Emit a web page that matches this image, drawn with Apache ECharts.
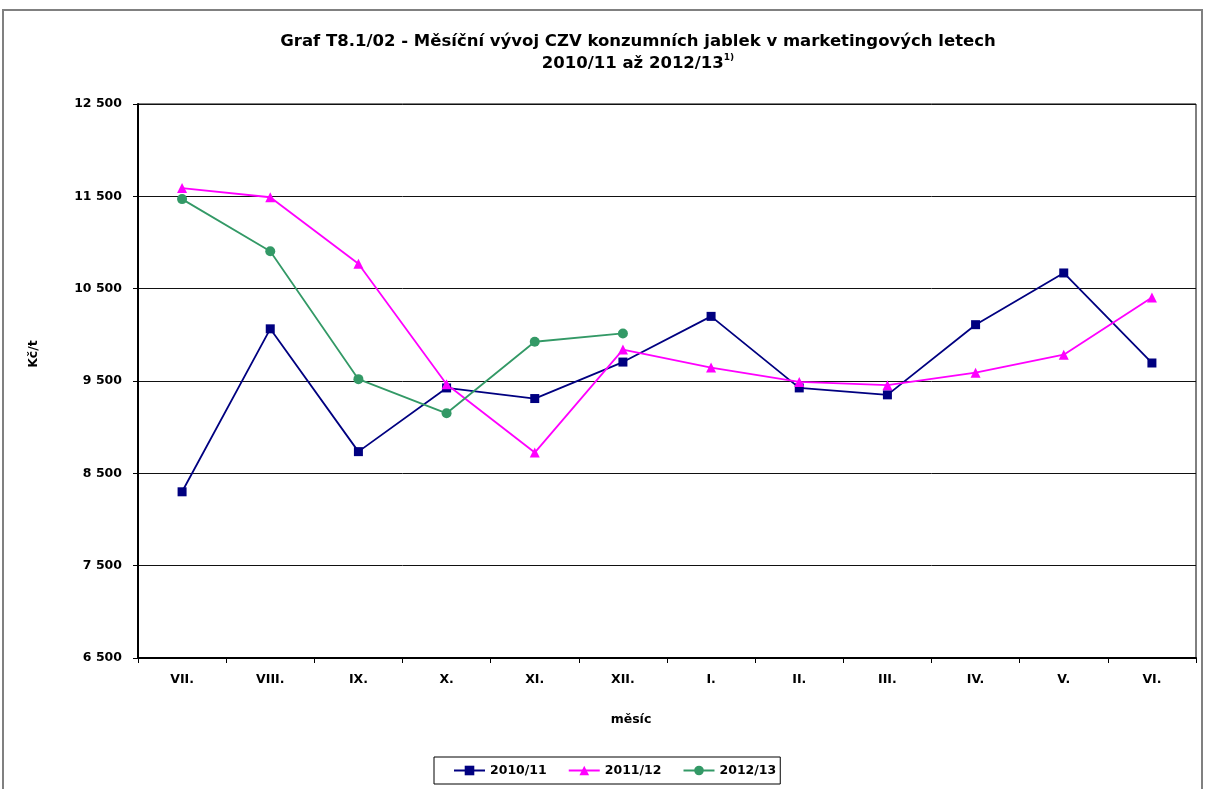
<!DOCTYPE html>
<html><head><meta charset="utf-8">
<script src="https://cdn.jsdelivr.net/npm/echarts@6/dist/echarts.min.js"></script>
<style>html,body{margin:0;padding:0;background:#fff}#c{width:1206px;height:789px}</style>
</head><body><div id="c"></div>
<script>
const months = ['VII.','VIII.','IX.','X.','XI.','XII.','I.','II.','III.','IV.','V.','VI.'];
const s2010 = [8300,10065,8735,9425,9310,9705,10200,9425,9350,10110,10670,9695];
const s2011 = [11590,11490,10770,9465,8725,9840,9645,9490,9455,9590,9785,10405];
const s2012 = [11470,10905,9520,9150,9925,10015];
const seriesNames = ['2010/11','2011/12','2012/13'];

const chart = echarts.init(document.getElementById('c'), null, {renderer:'canvas'});
const font = '"DejaVu Sans", Arial, sans-serif';
const lbl = {fontFamily:font,fontSize:12.5,fontWeight:'bold',color:'#000'};
chart.setOption({
  animation:false,
  backgroundColor:'#fff',
  textStyle:{fontFamily:font},
  graphic:[
    {type:'rect',shape:{x:3,y:10,width:1199,height:800},style:{fill:null,stroke:'#808080',lineWidth:2},silent:true},
    {type:'text',x:34,y:354,rotation:Math.PI/2,silent:true,
      style:{text:'Kč/t',fill:'#000',font:'bold 12.5px "DejaVu Sans", Arial, sans-serif',align:'center',verticalAlign:'middle'}},
    {type:'text',x:631,y:720,silent:true,
      style:{text:'měsíc',fill:'#000',font:'bold 12.5px "DejaVu Sans", Arial, sans-serif',align:'center',verticalAlign:'middle'}}
  ],
  title:{
    text:'Graf T8.1/02 - Měsíční vývoj CZV konzumních jablek v marketingových letech\n2010/11 až 2012/13{s|1)}',
    left:633, top:26, textAlign:'center',
    textStyle:{fontFamily:font,fontSize:16.5,fontWeight:'bold',color:'#000',lineHeight:22,
      rich:{s:{fontFamily:font,fontSize:9,fontWeight:'bold',verticalAlign:'top',lineHeight:22,padding:[0,0,7,0]}}}
  },
  grid:{left:138,right:10,top:104,bottom:131,show:true,borderColor:'#000',borderWidth:1},
  legend:{
    data:seriesNames, left:434, top:757,
    orient:'horizontal', itemWidth:31, itemHeight:12, itemGap:21,
    borderColor:'#000', borderWidth:1, padding:[7,4,7,19],
    textStyle:lbl
  },
  xAxis:{
    type:'category', data:months, boundaryGap:true,
    axisLine:{lineStyle:{color:'#000',width:2}},
    axisTick:{show:true,length:5,inside:false,lineStyle:{color:'#000'}},
    axisLabel:Object.assign({margin:15},lbl)
  },
  yAxis:{
    type:'value', min:6500, max:12500, interval:1000,
    axisLine:{show:true,lineStyle:{color:'#000',width:2}},
    axisTick:{show:true,length:5,lineStyle:{color:'#000'}},
    axisLabel:Object.assign({margin:16,
      formatter:v=>String(v).replace(/\B(?=(\d{3})+(?!\d))/g,' ')},lbl),
    splitLine:{show:true,lineStyle:{color:'#111',width:1}}
  },
  series:[
    {name:seriesNames[0],type:'line',data:s2010,symbol:'rect',symbolSize:9,
      lineStyle:{color:'#000080',width:1.8},itemStyle:{color:'#000080'}},
    {name:seriesNames[1],type:'line',data:s2011,symbol:'triangle',symbolSize:10,
      lineStyle:{color:'#FF00FF',width:1.8},itemStyle:{color:'#FF00FF'}},
    {name:seriesNames[2],type:'line',data:s2012,symbol:'circle',symbolSize:10,
      lineStyle:{color:'#339966',width:1.8},itemStyle:{color:'#339966'}}
  ]
});
</script></body></html>
